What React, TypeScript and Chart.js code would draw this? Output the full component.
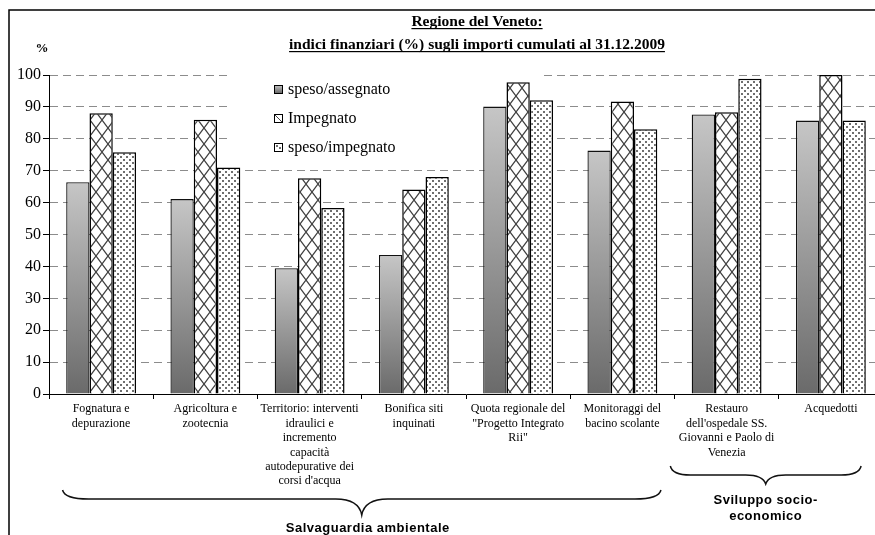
import React, { useEffect, useRef } from 'react';
import { Chart, registerables } from 'chart.js';

Chart.register(...registerables);

// ---------- DATA ----------
const titleLines = ['Regione del Veneto:', 'indici finanziari (%) sugli importi cumulati al 31.12.2009'];
const yUnit = '%';
const categories: string[][] = [
  ['Fognatura e', 'depurazione'],
  ['Agricoltura e', 'zootecnia'],
  ['Territorio: interventi', 'idraulici e', 'incremento', 'capacità', 'autodepurative dei', "corsi d'acqua"],
  ['Bonifica siti', 'inquinati'],
  ['Quota regionale del', '"Progetto Integrato', 'Rii"'],
  ['Monitoraggi del', 'bacino scolante'],
  ['Restauro', "dell'ospedale SS.", 'Giovanni e Paolo di', 'Venezia'],
  ['Acquedotti'],
];
const seriesNames = ['speso/assegnato', 'Impegnato', 'speso/impegnato'];
const spesoAssegnato = [66.4, 61.1, 39.4, 43.6, 90.1, 76.3, 87.6, 85.7];
const impegnato = [88.0, 86.0, 67.6, 64.1, 97.7, 91.7, 88.3, 100.0];
const spesoImpegnato = [75.8, 71.0, 58.3, 68.0, 92.1, 83.0, 98.8, 85.7];
const yMin = 0;
const yMax = 100;
const yStep = 10;
// groups under the x axis: label lines, first and last category (fractional edges)
const groupLabels: string[][] = [['Salvaguardia ambientale'], ['Sviluppo socio-', 'economico']];
const groupFrom = [-0.37, 5.46];
const groupTo = [5.37, 7.29];

// ---------- STYLE HELPERS ----------
function makeHatch(ctx: CanvasRenderingContext2D) {
  const c = document.createElement('canvas');
  c.width = 12;
  c.height = 16;
  const g = c.getContext('2d')!;
  g.fillStyle = '#ffffff';
  g.fillRect(0, 0, 12, 16);
  g.strokeStyle = '#404040';
  g.lineWidth = 1.3;
  g.beginPath();
  g.moveTo(-3, -4);
  g.lineTo(15, 20);
  g.moveTo(15, -4);
  g.lineTo(-3, 20);
  g.stroke();
  return ctx.createPattern(c, 'repeat')!;
}

function makeDots(ctx: CanvasRenderingContext2D) {
  const c = document.createElement('canvas');
  c.width = 6;
  c.height = 6;
  const g = c.getContext('2d')!;
  g.fillStyle = '#ffffff';
  g.fillRect(0, 0, 6, 6);
  g.fillStyle = '#6f6f6f';
  g.fillRect(0, 0, 2, 2);
  g.fillRect(3, 3, 2, 2);
  return ctx.createPattern(c, 'repeat')!;
}

function gradientFill(context: any) {
  const chart = context.chart;
  const y = chart.scales && chart.scales.y;
  if (!y || context.type !== 'data') return '#a0a0a0';
  const top = y.getPixelForValue(context.raw);
  const bottom = y.getPixelForValue(0);
  if (!isFinite(top) || !isFinite(bottom) || top === bottom) return '#a0a0a0';
  const g = chart.ctx.createLinearGradient(0, top, 0, bottom);
  g.addColorStop(0, '#c6c6c6');
  g.addColorStop(1, '#6a6a6a');
  return g;
}

function drawBrace(c: CanvasRenderingContext2D, x1: number, x2: number, yTop: number, yMid: number, yTip: number, r: number) {
  const xc = (x1 + x2) / 2;
  c.beginPath();
  c.moveTo(x1, yTop);
  c.quadraticCurveTo(x1 + 2, yMid, x1 + r, yMid);
  c.lineTo(xc - r, yMid);
  c.quadraticCurveTo(xc - 3, yMid, xc, yTip);
  c.quadraticCurveTo(xc + 3, yMid, xc + r, yMid);
  c.lineTo(x2 - r, yMid);
  c.quadraticCurveTo(x2 - 2, yMid, x2, yTop);
  c.stroke();
}

export default function App() {
  const ref = useRef<HTMLCanvasElement | null>(null);

  useEffect(() => {
    const canvas = ref.current!;
    const ctx = canvas.getContext('2d')!;
    const hatch = makeHatch(ctx);
    const dots = makeDots(ctx);

    const decor = {
      id: 'decor',
      beforeDatasetsDraw(chart: any) {
        const c = chart.ctx as CanvasRenderingContext2D;
        c.save();
        // legend box (hides grid lines behind it)
        c.fillStyle = '#ffffff';
        c.fillRect(228, 64, 313, 97);
        const rows = [89, 118, 147];
        c.font = '16px "Liberation Serif", "Times New Roman", serif';
        c.textBaseline = 'middle';
        c.textAlign = 'left';
        rows.forEach((ry, i) => {
          const ix = 274;
          const iy = ry - 4;
          if (i === 0) {
            const g = c.createLinearGradient(0, iy, 0, iy + 8);
            g.addColorStop(0, '#c6c6c6');
            g.addColorStop(1, '#6a6a6a');
            c.fillStyle = g;
            c.fillRect(ix, iy, 8, 8);
          } else if (i === 1) {
            c.fillStyle = '#fff';
            c.fillRect(ix, iy, 8, 8);
            c.strokeStyle = '#444';
            c.lineWidth = 1;
            c.beginPath();
            c.moveTo(ix, iy);
            c.lineTo(ix + 8, iy + 8);
            c.stroke();
          } else {
            c.fillStyle = '#fff';
            c.fillRect(ix, iy, 8, 8);
            c.fillStyle = '#6f6f6f';
            c.fillRect(ix + 2, iy + 2, 2, 2);
            c.fillRect(ix + 5, iy + 4, 2, 2);
          }
          c.strokeStyle = '#000';
          c.lineWidth = 1;
          c.strokeRect(ix + 0.5, iy + 0.5, 8, 8);
          c.fillStyle = '#000';
          c.fillText(seriesNames[i], 288, ry + 1);
        });
        c.restore();
      },
      afterDraw(chart: any) {
        const c = chart.ctx as CanvasRenderingContext2D;
        c.save();
        // outer frame
        c.strokeStyle = '#000';
        c.lineWidth = 1.5;
        c.beginPath();
        c.moveTo(9, 600);
        c.lineTo(9, 10);
        c.lineTo(900, 10);
        c.stroke();
        // title
        c.fillStyle = '#000';
        c.font = 'bold 15.5px "Liberation Serif", "Times New Roman", serif';
        c.textAlign = 'center';
        c.textBaseline = 'alphabetic';
        const tx = 477;
        const baselines = [26, 49];
        titleLines.forEach((t, i) => {
          c.fillText(t, tx, baselines[i]);
          const w = c.measureText(t).width;
          c.fillRect(tx - w / 2, baselines[i] + 2, w, 1.2);
        });
        // unit
        c.font = 'bold 13px "Liberation Serif", "Times New Roman", serif';
        c.fillText(yUnit, 42, 52);
        // group braces
        const xs = chart.scales.x;
        const braceY = [
          { top: 490, mid: 499, tip: 515, r: 26, text: [528], dx: 6 },
          { top: 466, mid: 475, tip: 484, r: 20, text: [500, 516], dx: 0 },
        ];
        c.strokeStyle = '#111';
        c.lineWidth = 1.5;
        groupLabels.forEach((lines, i) => {
          const x1 = xs.getPixelForValue(groupFrom[i]);
          const x2 = xs.getPixelForValue(groupTo[i]);
          const b = braceY[i];
          drawBrace(c, x1, x2, b.top, b.mid, b.tip, b.r);
          c.font = 'bold 13px "Liberation Sans", Arial, sans-serif';
          (c as any).letterSpacing = '0.5px';
          c.textBaseline = 'middle';
          c.fillStyle = '#000';
          lines.forEach((ln, k) => c.fillText(ln, (x1 + x2) / 2 + b.dx, b.text[k]));
          (c as any).letterSpacing = '0px';
        });
        c.restore();
      },
    };

    const chart = new Chart(canvas, {
      type: 'bar',
      data: {
        labels: categories,
        datasets: [
          {
            label: seriesNames[0],
            data: spesoAssegnato,
            backgroundColor: gradientFill as any,
            borderColor: '#111',
            borderWidth: 1.3,
          },
          {
            label: seriesNames[1],
            data: impegnato,
            backgroundColor: hatch as any,
            borderColor: '#000',
            borderWidth: 1.5,
          },
          {
            label: seriesNames[2],
            data: spesoImpegnato,
            backgroundColor: dots as any,
            borderColor: '#000',
            borderWidth: 1.5,
          },
        ],
      },
      options: {
        responsive: false,
        animation: false,
        events: [],
        layout: { padding: { left: 0, right: 7, top: 75, bottom: 0 } },
        datasets: { bar: { categoryPercentage: 0.67, barPercentage: 1.0 } },
        plugins: {
          legend: { display: false },
          title: { display: false },
          tooltip: { enabled: false },
        },
        scales: {
          x: {
            grid: {
              display: true,
              drawOnChartArea: false,
              drawTicks: true,
              tickLength: 5,
              tickColor: '#000',
              tickWidth: 1,
              offset: true,
            },
            border: { display: true, color: '#000', width: 1 },
            ticks: {
              autoSkip: false,
              maxRotation: 0,
              minRotation: 0,
              padding: 3,
              color: '#000',
              font: { family: '"Liberation Serif", "Times New Roman", serif', size: 12, lineHeight: 1.2 },
            },
            afterFit(scale: any) {
              scale.height = 141;
            },
          },
          y: {
            min: yMin,
            max: yMax,
            grid: {
              color: (c: any) => (c.tick && c.tick.value === 0 ? 'rgba(0,0,0,0)' : '#8c8c8c'),
              lineWidth: 1,
              drawTicks: true,
              tickLength: 6,
              tickColor: '#000',
              tickWidth: 1,
              tickBorderDash: [],
            },
            border: { display: true, color: '#000', width: 1, dash: [8, 5] },
            ticks: {
              stepSize: yStep,
              padding: 2,
              color: '#000',
              font: { family: '"Liberation Serif", "Times New Roman", serif', size: 16 },
            },
            afterFit(scale: any) {
              scale.width = 49;
            },
          },
        },
      },
      plugins: [decor],
    });

    return () => chart.destroy();
  }, []);

  return (
    <div
      style={{
        position: 'fixed',
        left: 0,
        top: 0,
        width: 875,
        height: 535,
        overflow: 'hidden',
        background: '#fff',
      }}
    >
      <canvas ref={ref} width={890} height={535} style={{ display: 'block', width: 890, height: 535 }} />
    </div>
  );
}
